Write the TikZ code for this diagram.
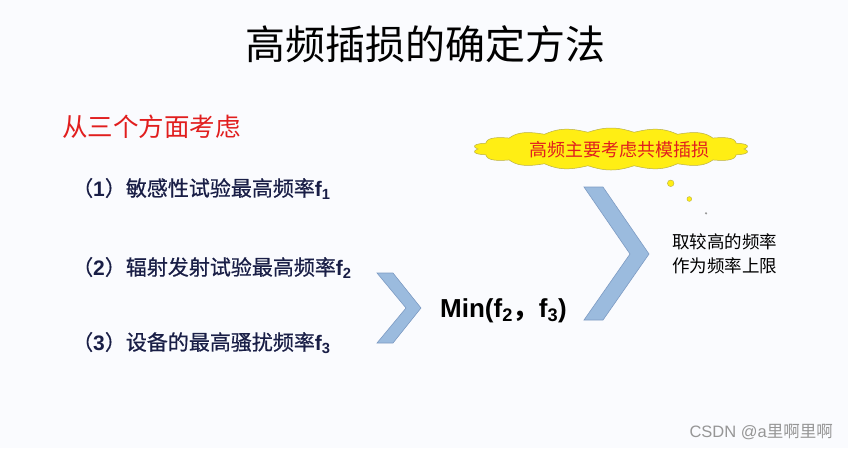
\documentclass[tikz,border=0pt]{standalone}
\usepackage{fontspec}
\setmainfont{Liberation Sans}
\newfontfamily\cjk{Noto Sans CJK SC}
\newfontfamily\cjkmed{Noto Sans CJK SC}[FakeBold=0.6]
\newcommand{\itemcjk}[1]{{\cjkmed\mdseries #1}}
\usetikzlibrary{positioning}
\definecolor{paper}{RGB}{250, 251, 254}
\definecolor{itemnavy}{RGB}{25, 30, 70}
\definecolor{headred}{RGB}{225, 30, 30}
\definecolor{chevblue}{RGB}{155, 187, 222}
\definecolor{chevedge}{RGB}{125, 155, 195}
\definecolor{cloudyellow}{RGB}{255, 238, 20}
\definecolor{cloudedge}{RGB}{185, 175, 70}
\definecolor{markgray}{RGB}{150, 150, 150}

\begin{document}
\begin{tikzpicture}[x=1pt, y=-1pt,
    item/.style={anchor=base west, inner sep=0pt, text=itemnavy, font=\fontsize{21}{24}\selectfont\bfseries},
    note/.style={anchor=base west, inner sep=0pt, font=\cjk\fontsize{17.5}{20}\selectfont},
    chevron/.style={fill=chevblue, draw=chevedge, line width=0.6pt, line join=miter},
    bubble/.style={fill=cloudyellow, draw=cloudedge, line width=0.4pt}]
    \useasboundingbox (0,0) rectangle (848,448);
    \fill[paper] (0,0) rectangle (848,448);

    % Title
    \node[anchor=base, inner sep=0pt, font=\cjk\fontsize{40}{44}\selectfont] (title) at (425,59) {高频插损的确定方法};

    % Heading
    \node[anchor=base west, inner sep=0pt, text=headred, font=\cjk\fontsize{25.5}{28}\selectfont] (head) at (62,136) {从三个方面考虑};

    % Three upper frequencies
    \node[item] (fone) at (72,196) {\itemcjk{（}1\itemcjk{）敏感性试验最高频率}f\textsubscript{1}};
    \node[item] (ftwo) at (72,275) {\itemcjk{（}2\itemcjk{）辐射发射试验最高频率}f\textsubscript{2}};
    \node[item] (fthree) at (72,350) {\itemcjk{（}3\itemcjk{）设备的最高骚扰频率}f\textsubscript{3}};

    % Chevrons
    \draw[chevron] (377,273) -- (393,273) -- (421,308) -- (393,343) -- (377,343) -- (406,308) -- cycle;
    \draw[chevron] (584,187) -- (603,187) -- (649,254) -- (603,320) -- (584,320) -- (630,254) -- cycle;

    % Minimum of f2, f3
    \node[anchor=base west, inner sep=0pt, font=\fontsize{26}{30}\selectfont\bfseries] (fmin) at (440,317) {Min(f\textsubscript{2}{\cjk，}f\textsubscript{3})};

    % Thought cloud (scalloped ellipse)
    \draw[fill=cloudyellow, draw=cloudedge, line width=0.5pt, variable=\t, domain=0:360, samples=361]
        plot ({611 + 133*cos(\t) + 5*abs(sin(9*\t))*cos(\t)}, {149 + 17*sin(\t) + 4*abs(sin(9*\t))*sin(\t)}) -- cycle;
    \node[anchor=base, inner sep=0pt, text=headred, font=\cjk\fontsize{18}{20}\selectfont] (cloudtext) at (619,156) {高频主要考虑共模插损};
    \draw[bubble] (670.7,183.3) circle (3.3);
    \draw[bubble] (689.3,199) circle (2.4);
    \fill[markgray] (706,213.3) circle (1.2);

    % Conclusion
    \node[note] (upperone) at (672,248) {取较高的频率};
    \node[note] (uppertwo) at (672,272) {作为频率上限};

    % Watermark
    \node[anchor=base east, inner sep=0pt, text=markgray, font=\fontsize{16.5}{20}\selectfont] (mark) at (833,437) {CSDN @a{\cjk 里啊里啊}};
\end{tikzpicture}
\end{document}
